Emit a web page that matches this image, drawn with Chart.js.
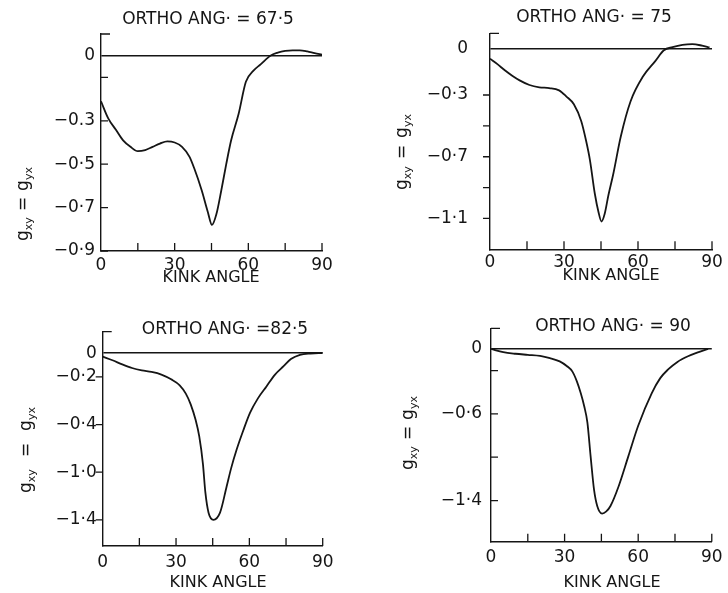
<!DOCTYPE html>
<html>
<head>
<meta charset="utf-8">
<script src="https://cdn.jsdelivr.net/npm/chart.js@4.4.1/dist/chart.umd.min.js"></script>
<style>
  body { margin: 0; background: #fff; }
  #wrap { position: relative; width: 728px; height: 593px; }
  canvas { position: absolute; }
</style>
</head>
<body>
<div id="wrap">
  <canvas id="p1" width="364" height="296" style="left:0;top:0"></canvas>
  <canvas id="p2" width="364" height="296" style="left:364px;top:0"></canvas>
  <canvas id="p3" width="364" height="297" style="left:0;top:296px"></canvas>
  <canvas id="p4" width="364" height="297" style="left:364px;top:296px"></canvas>
</div>
<script>
// kink angle (deg) against g_xy = g_yx
const p1Angle = [0, 3, 6, 9, 12, 15, 18, 21, 24, 27, 30, 33, 36, 38, 41, 43.5, 45.2, 47, 49, 51, 53, 56, 59, 62, 65, 69, 72, 75, 78, 81, 84, 87, 90];
const p1G = [-0.21, -0.29, -0.34, -0.39, -0.42, -0.44, -0.435, -0.42, -0.405, -0.395, -0.40, -0.42, -0.465, -0.52, -0.62, -0.72, -0.78, -0.73, -0.62, -0.50, -0.39, -0.27, -0.12, -0.07, -0.04, 0.0, 0.014, 0.022, 0.025, 0.025, 0.02, 0.012, 0.005];

const p2Angle = [0, 3, 6, 9, 12, 16, 20, 24, 28, 31, 34, 37, 39, 40.5, 42.5, 44, 45.2, 46.5, 48, 50, 53, 57, 62, 67, 70.5, 74, 78, 82, 86, 89];
const p2G = [-0.065, -0.10, -0.14, -0.175, -0.205, -0.235, -0.25, -0.255, -0.27, -0.31, -0.36, -0.47, -0.60, -0.72, -0.94, -1.06, -1.12, -1.07, -0.95, -0.81, -0.57, -0.34, -0.18, -0.08, -0.01, 0.01, 0.025, 0.03, 0.02, 0.008];

const p3Angle = [0, 4, 8, 12, 16, 20, 24, 28, 31.5, 34, 36, 38, 39.5, 41, 42, 43.3, 45.3, 48, 50.7, 52.5, 54.8, 57.5, 60.3, 63.5, 67, 70.5, 74, 77, 80.7, 85, 90];
const p3G = [-0.03, -0.06, -0.095, -0.125, -0.145, -0.158, -0.18, -0.22, -0.27, -0.34, -0.43, -0.56, -0.70, -0.93, -1.17, -1.34, -1.40, -1.34, -1.12, -0.97, -0.81, -0.65, -0.50, -0.38, -0.28, -0.18, -0.11, -0.05, -0.014, -0.003, 0.0];

const p4Angle = [0, 5, 10, 15, 20, 24, 28, 31, 33.2, 35, 36.6, 38, 39.3, 40.6, 42, 43.3, 45.3, 47, 48.7, 52, 56, 60, 65.5, 69, 72.2, 76, 80.3, 84, 88.5];
const p4G = [0, -0.03, -0.045, -0.055, -0.065, -0.085, -0.115, -0.16, -0.21, -0.30, -0.41, -0.53, -0.68, -0.99, -1.30, -1.45, -1.52, -1.50, -1.45, -1.27, -0.99, -0.71, -0.41, -0.27, -0.19, -0.12, -0.068, -0.035, 0];

const kinkTicks = [0, 15, 30, 45, 60, 75, 90];
const kinkLabels = ['0', '', '30', '', '60', '', '90'];

const p1YTicks = [0, -0.1, -0.3, -0.5, -0.7, -0.9];
const p1YLabels = ['0', '', '−0.3', '−0·5', '−0·7', '−0·9'];
const p2YTicks = [0, -0.3, -0.5, -0.7, -0.9, -1.1];
const p2YLabels = ['0', '−0·3', '', '−0·7', '', '−1·1'];
// the printed "-0·4" sits where -0·6 belongs on this axis; kept as printed
const p3YTicks = [0, -0.2, -0.6, -1.0, -1.4];
const p3YLabels = ['0', '−0·2', '−0·4', '−1·0', '−1·4'];
const p4YTicks = [0, -0.2, -0.6, -1.0, -1.4];
const p4YLabels = ['0', '', '−0·6', '', '−1·4'];

const titles = ['ORTHO ANG· = 67·5', 'ORTHO ANG· = 75', 'ORTHO ANG· =82·5', 'ORTHO ANG· = 90'];

const INK = '#151515';
const FONT = '"DejaVu Sans", sans-serif';
Chart.defaults.font.family = FONT;
Chart.defaults.font.size = 17;
Chart.defaults.color = INK;

// y title with real subscripts: g_xy = g_yx
function drawYTitle(ctx, cx, cy, gap) {
  const big = '17px ' + FONT, small = '11px ' + FONT;
  const parts = [['g', big, 0], ['xy', small, 4], ['=', big, 0], ['g', big, 0], ['yx', small, 4]];
  const space = 6 + gap;
  const widths = parts.map(([t, f]) => { ctx.font = f; return ctx.measureText(t).width; });
  const total = widths.reduce((s, w) => s + w, 0) + 2 * space;
  ctx.save();
  ctx.translate(cx, cy);
  ctx.rotate(-Math.PI / 2);
  ctx.textAlign = 'left';
  ctx.textBaseline = 'alphabetic';
  let x = -total / 2;
  parts.forEach(([t, f, dy], i) => {
    ctx.font = f;
    ctx.fillText(t, x, 4 + dy);
    x += widths[i];
    if (i === 1 || i === 2) x += space;
  });
  ctx.restore();
}

// tick marks, axis cap and the panel texts
const axisMarks = {
  id: 'axisMarks',
  afterDraw(chart, args, o) {
    const {ctx, chartArea: a, scales: {x, y}} = chart;
    ctx.save();
    ctx.strokeStyle = INK;
    ctx.lineWidth = 1.3;
    ctx.beginPath();
    x.ticks.forEach(t => {
      if (t.value <= x.min) return;
      const px = x.getPixelForValue(t.value);
      ctx.moveTo(px, a.bottom);
      ctx.lineTo(px, a.bottom - 8);
    });
    y.ticks.forEach(t => {
      if (t.value === 0) return;
      const py = y.getPixelForValue(t.value);
      ctx.moveTo(a.left, py);
      ctx.lineTo(a.left + 7 * o.tickDir, py);
    });
    ctx.moveTo(a.left, a.top);
    ctx.lineTo(a.left + 9, a.top);
    ctx.stroke();

    ctx.fillStyle = INK;
    ctx.textAlign = 'center';
    ctx.textBaseline = 'middle';
    ctx.font = '17px ' + FONT;
    ctx.fillText(o.title, o.titleAt[0], o.titleAt[1]);
    ctx.font = '16px ' + FONT;
    ctx.fillText('KINK ANGLE', o.kinkAt[0], o.kinkAt[1]);
    drawYTitle(ctx, o.yTitleAt[0], o.yTitleAt[1], o.yGap);
    ctx.restore();
  }
};

const panels = [
  { id: 'p1', angle: p1Angle, g: p1G, yTicks: p1YTicks, yLabels: p1YLabels, title: titles[0],
    w: 364, h: 296, area: {l: 101, r: 322, t: 34, b: 251}, yMin: -0.9, yMax: 0.1,
    yPad: 6, xPad: 4.4, tickDir: 1, titleAt: [208, 20], kinkAt: [211, 278], yTitleAt: [24, 204], yGap: 0 },
  { id: 'p2', angle: p2Angle, g: p2G, yTicks: p2YTicks, yLabels: p2YLabels, title: titles[1],
    w: 364, h: 296, area: {l: 126, r: 348, t: 33.3, b: 249.3}, yMin: -1.3, yMax: 0.1,
    yPad: 22, xPad: 2.8, tickDir: -1, titleAt: [230, 18], kinkAt: [247, 276], yTitleAt: [39, 152], yGap: 1 },
  { id: 'p3', angle: p3Angle, g: p3G, yTicks: p3YTicks, yLabels: p3YLabels, title: titles[2],
    w: 364, h: 297, area: {l: 102.7, r: 322.7, t: 35.7, b: 250}, yMin: -1.62, yMax: 0.18,
    yPad: 6, xPad: 6, tickDir: -1, titleAt: [225, 34], kinkAt: [218, 287], yTitleAt: [27, 154], yGap: 6 },
  { id: 'p4', angle: p4Angle, g: p4G, yTicks: p4YTicks, yLabels: p4YLabels, title: titles[3],
    w: 364, h: 297, area: {l: 127, r: 350, t: 32.3, b: 245.7}, yMin: -1.78, yMax: 0.19,
    yPad: 9, xPad: 5.4, tickDir: 1, titleAt: [249, 31], kinkAt: [248, 287], yTitleAt: [45, 137], yGap: 0 }
];

function makePanel(p) {
  return new Chart(document.getElementById(p.id), {
    type: 'line',
    data: {
      datasets: [{
        data: p.angle.map((a, i) => ({x: a, y: p.g[i]})),
        borderColor: INK,
        borderWidth: 1.8,
        pointRadius: 0,
        fill: false,
        cubicInterpolationMode: 'monotone'
      }]
    },
    options: {
      responsive: false,
      animation: false,
      layout: { padding: { left: 0, top: p.area.t, right: p.w - p.area.r, bottom: 0 } },
      plugins: {
        legend: { display: false },
        tooltip: { enabled: false },
        axisMarks: { title: p.title, titleAt: p.titleAt, kinkAt: p.kinkAt,
                     yTitleAt: p.yTitleAt, yGap: p.yGap, tickDir: p.tickDir }
      },
      scales: {
        x: {
          type: 'linear', min: 0, max: 90,
          afterBuildTicks: s => { s.ticks = kinkTicks.map(v => ({value: v})); },
          afterFit: s => { s.height = p.h - p.area.b; },
          ticks: { autoSkip: false, maxRotation: 0, padding: p.xPad, callback: (v, i) => kinkLabels[i] },
          grid: { display: false, drawTicks: false },
          border: { color: INK, width: 1.4 }
        },
        y: {
          min: p.yMin, max: p.yMax,
          afterBuildTicks: s => { s.ticks = p.yTicks.map(v => ({value: v})); },
          afterFit: s => { s.width = p.area.l; },
          ticks: { autoSkip: false, padding: p.yPad, callback: (v, i) => p.yLabels[i] },
          grid: { drawTicks: false, lineWidth: 1.4,
                  color: c => (c.tick && c.tick.value === 0) ? INK : 'rgba(0,0,0,0)' },
          border: { color: INK, width: 1.4 }
        }
      }
    },
    plugins: [axisMarks]
  });
}

panels.forEach(makePanel);
</script>
</body>
</html>
